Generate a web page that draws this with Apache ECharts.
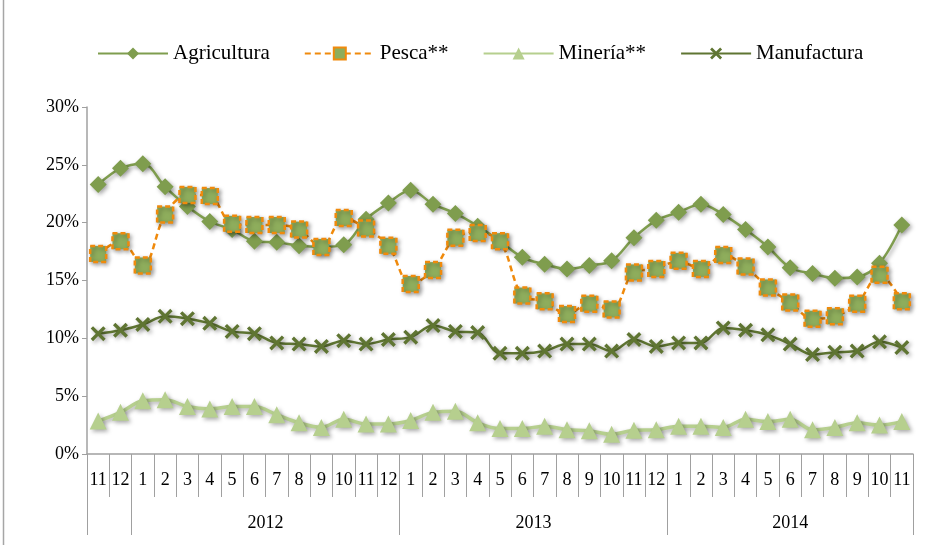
<!DOCTYPE html>
<html><head><meta charset="utf-8">
<script src="https://cdn.jsdelivr.net/npm/echarts@6/dist/echarts.min.js"></script>
<style>html,body{margin:0;padding:0;background:#fff}#c{width:938px;height:545px}</style>
</head><body><div id="c"></div>
<script>
const months = ['11','12','1','2','3','4','5','6','7','8','9','10','11','12','1','2','3','4','5','6','7','8','9','10','11','12','1','2','3','4','5','6','7','8','9','10','11'];
const years = ['', '2012', '2013', '2014'];
const yearSpans = [2, 12, 12, 11];
const yTicks = [0, 5, 10, 15, 20, 25, 30];
const agricultura = [23.3,24.7,25.1,23.1,21.4,20.1,19.4,18.4,18.3,18.0,17.9,18.1,20.3,21.7,22.8,21.6,20.8,19.7,18.4,17.0,16.4,16.0,16.3,16.7,18.7,20.2,20.9,21.6,20.7,19.4,17.9,16.1,15.6,15.2,15.3,16.5,19.8];
const pesca = [17.3,18.4,16.3,20.7,22.4,22.3,19.9,19.8,19.8,19.4,17.9,20.4,19.5,18.0,14.7,15.9,18.7,19.1,18.4,13.7,13.2,12.1,13.0,12.5,15.7,16.0,16.7,16.0,17.2,16.2,14.4,13.1,11.7,11.9,13.0,15.5,13.2];
const mineria = [2.85,3.6,4.6,4.7,4.1,3.9,4.1,4.1,3.4,2.7,2.3,3.0,2.6,2.6,2.9,3.6,3.7,2.7,2.2,2.2,2.4,2.1,2.0,1.7,2.05,2.1,2.4,2.4,2.3,3.0,2.8,3.0,2.1,2.3,2.7,2.5,2.8];
const manufactura = [10.4,10.7,11.2,11.9,11.7,11.3,10.6,10.4,9.6,9.5,9.3,9.8,9.5,9.9,10.1,11.1,10.6,10.5,8.7,8.7,8.9,9.5,9.5,8.9,9.9,9.3,9.6,9.6,10.9,10.7,10.3,9.5,8.6,8.8,8.9,9.7,9.2];

// half-month positions for the year row: boundaries and centers
const halfCats = new Array(months.length * 2 + 1).fill('');
const boundaryIdx = new Set([0]);
{
  let pos = 0;
  years.forEach((y, i) => {
    const start = pos * 2, end = (pos + yearSpans[i]) * 2;
    if (y) halfCats[(start + end) / 2] = y;
    boundaryIdx.add(end);
    pos += yearSpans[i];
  });
}

const FONT = 'Liberation Serif';
const shadow = {shadowColor:'rgba(0,0,0,0.35)', shadowBlur:4, shadowOffsetX:2, shadowOffsetY:2};
const xPath = 'path://M0,1.6 L1.6,0 L5,3.4 L8.4,0 L10,1.6 L6.6,5 L10,8.4 L8.4,10 L5,6.6 L1.6,10 L0,8.4 L3.4,5 Z';

const chart = echarts.init(document.getElementById('c'));
chart.setOption({
  animation: false,
  textStyle: {fontFamily: FONT},
  graphic: [{type:'line', shape:{x1:3.5,y1:0,x2:3.5,y2:545}, style:{stroke:'#a6a6a6', lineWidth:1.5}}],
  legend: {
    left: 92, top: 38, itemWidth: 70, itemHeight: 15, itemGap: 34,
    textStyle: {fontFamily: FONT, fontSize: 21, color: '#000'},
    data: ['Agricultura','Pesca**','Minería**','Manufactura']
  },
  grid: {left: 87, right: 25, top: 107, bottom: 91, containLabel: false},
  xAxis: [{
    type: 'category', data: months, boundaryGap: true,
    axisLine: {lineStyle: {color: '#a0a0a0', width: 1.5}},
    axisTick: {show: true, interval: 0, length: 43, lineStyle: {color: '#a0a0a0', width: 1}},
    axisLabel: {interval: 0, margin: 17, fontSize: 18, color: '#000', fontFamily: FONT}
  }, {
    type: 'category', data: halfCats, boundaryGap: false, position: 'bottom',
    axisLine: {show: false},
    axisTick: {show: true, interval: (i) => boundaryIdx.has(i), length: 81, lineStyle: {color: '#a0a0a0', width: 1}},
    axisLabel: {interval: (i, v) => v !== '', margin: 60, fontSize: 18, color: '#000', fontFamily: FONT}
  }],
  yAxis: {
    type: 'value', min: 0, max: 30, interval: 5,
    splitLine: {show: false},
    axisLine: {show: true, lineStyle: {color: '#a0a0a0', width: 1.5}},
    axisTick: {show: true, length: 5, lineStyle: {color: '#a0a0a0'}},
    axisLabel: {formatter: v => yTicks.includes(v) ? v + '%' : '', fontSize: 18, color: '#000', margin: 8, fontFamily: FONT}
  },
  series: [{
    name: 'Agricultura', type: 'line', data: agricultura, smooth: 0.35,
    symbol: 'diamond', symbolSize: 17,
    itemStyle: Object.assign({color: '#7f9d4e'}, shadow),
    lineStyle: Object.assign({color: '#7f9d4e', width: 2.5}, shadow)
  }, {
    name: 'Pesca**', type: 'line', data: pesca, smooth: 0.35,
    symbol: 'rect', symbolSize: 16,
    itemStyle: Object.assign({color: '#8ead5c', borderColor: '#f08a0c', borderWidth: 2.5, borderType: [5, 3]}, shadow),
    lineStyle: {color: '#f08a0c', width: 2.5, type: [6, 4]}
  }, {
    name: 'Minería**', type: 'line', data: mineria, smooth: 0.35,
    symbol: 'triangle', symbolSize: 17,
    itemStyle: Object.assign({color: '#b6cf8e'}, shadow),
    lineStyle: Object.assign({color: '#b6cf8e', width: 3.5}, shadow)
  }, {
    name: 'Manufactura', type: 'line', data: manufactura, smooth: 0.35,
    symbol: xPath, symbolSize: 15,
    itemStyle: Object.assign({color: '#5f7532'}, shadow),
    lineStyle: Object.assign({color: '#5f7532', width: 2.5}, shadow)
  }]
});
</script></body></html>
